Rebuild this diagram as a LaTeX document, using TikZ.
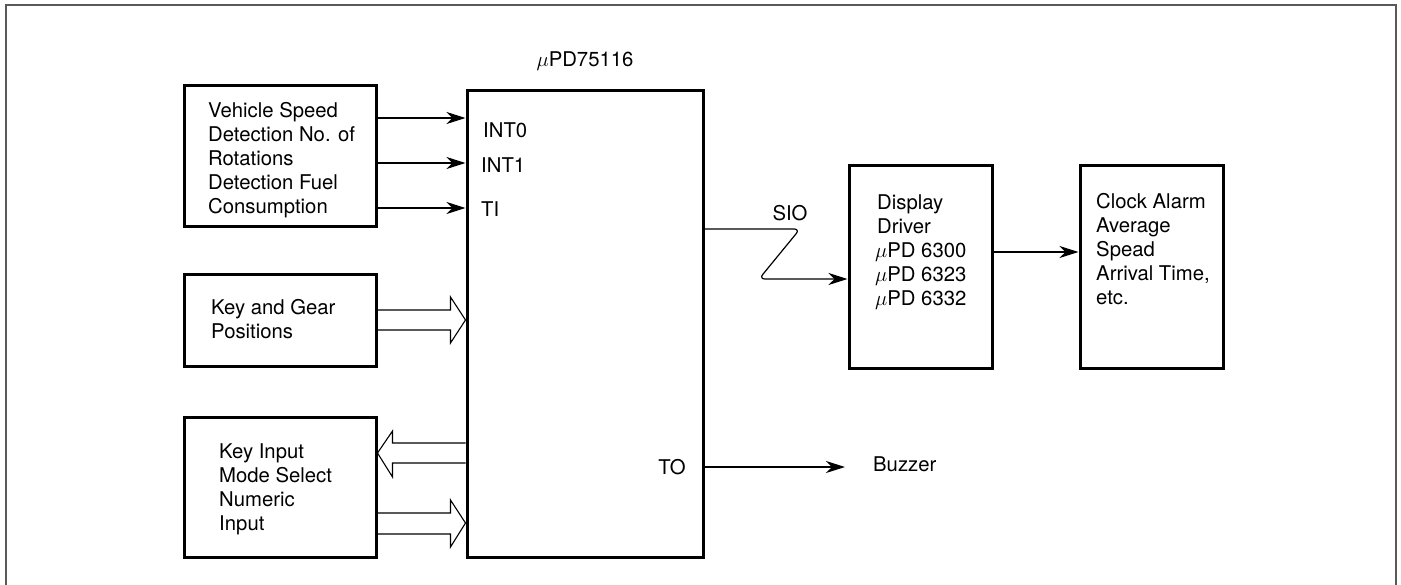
\documentclass[tikz,border=0pt]{standalone}
\usepackage{fontspec}
\setmainfont{TeX Gyre Heros}
\usetikzlibrary{arrows.meta,calc}
\newcommand\txtlines[1]{\vtop{\baselineskip=24pt\lineskiplimit=-30pt #1}}
\begin{document}
\begin{tikzpicture}[x=1pt,y=-1pt,
  blk/.style={draw=black,line width=3pt,inner sep=0pt},
  thinln/.style={line width=1.2pt},
  tip/.style={-{Stealth[length=19pt,width=12pt,inset=6pt]}},
  lbl/.style={inner sep=0pt,font=\fontsize{20.3}{24}\selectfont},
  hollow/.style={line width=1.1pt,line join=miter}]
\useasboundingbox (0,0) rectangle (1401,584);
% frame
\draw[black!65,line width=2pt] (6,640) -- (6,5) -- (1396,5) -- (1396,640);
% blocks
\node[blk,minimum width=192pt,minimum height=141pt] (b1) at (280,155.5) {};
\node[blk,minimum width=192pt,minimum height=92pt] (b2) at (280,320) {};
\node[blk,minimum width=192pt,minimum height=140pt] (b3) at (280,487) {};
\node[blk,minimum width=236pt,minimum height=467pt] (chip) at (585,323.5) {};
\node[blk,minimum width=143pt,minimum height=203pt] (disp) at (920.5,266.5) {};
\node[blk,minimum width=143pt,minimum height=203pt] (clk) at (1151.5,266.5) {};
% texts
\node[lbl,anchor=base west] (t1) at (208,117) {\txtlines{\hbox{Vehicle Speed}\hbox{Detection No. of}\hbox{Rotations}\hbox{Detection Fuel}\hbox{Consumption}}};
\node[lbl,anchor=base west] (t2) at (211,314) {\txtlines{\hbox{Key and Gear}\hbox{Positions}}};
\node[lbl,anchor=base west] (t3) at (219,458) {\txtlines{\hbox{Key Input}\hbox{Mode Select}\hbox{Numeric}\hbox{Input}}};
\node[lbl,anchor=base west] (t4) at (875,209) {\txtlines{\hbox{\kern2pt Display}\hbox{\kern2pt Driver}\hbox{$\mu$PD 6300}\hbox{$\mu$PD 6323}\hbox{$\mu$PD 6332}}};
\node[lbl,anchor=base west] (t5) at (1096,208) {\txtlines{\hbox{Clock Alarm}\hbox{Average}\hbox{Spead}\hbox{Arrival Time,}\hbox{etc.}}};
\node[lbl] (chipname) at (585,61) {$\mu$PD75116};
\node[lbl,anchor=base west] (int0) at (483,137) {INT0};
\node[lbl,anchor=base west] (int1) at (481,172) {INT1};
\node[lbl,anchor=base west] (ti) at (481,216) {TI};
\node[lbl] (sio) at (790,213) {SIO};
\node[lbl] (to) at (672,467) {TO};
\node[lbl,anchor=west] (buz) at (873,464) {Buzzer};
\coordinate (buzend) at (845,467);
% thin arrows
\draw[thinln,tip] (b1.east |- 0,118) -- (chip.west |- 0,118);
\draw[thinln,tip] (b1.east |- 0,163) -- (chip.west |- 0,163);
\draw[thinln,tip] (b1.east |- 0,208) -- (chip.west |- 0,208);
\draw[thinln,tip,rounded corners=6pt] (chip.east |- 0,229) -- (800,229) -- (759,279) -- (disp.west |- 0,279);
\draw[thinln,tip] (disp.east |- 0,252) -- (clk.west |- 0,252);
\draw[thinln,tip] (chip.east |- 0,467) -- (buzend);
% hollow arrows
\draw[hollow] (b2.east |- 0,310) -- ($(chip.west |- 0,310)+(-15,0)$) -- ($(chip.west |- 0,297)+(-15,0)$) -- (chip.west |- 0,320) -- ($(chip.west |- 0,343)+(-15,0)$) -- ($(chip.west |- 0,330)+(-15,0)$) -- (b2.east |- 0,330);
\draw[hollow] (chip.west |- 0,443) -- ($(b3.east |- 0,443)+(15,0)$) -- ($(b3.east |- 0,431)+(15,0)$) -- (b3.east |- 0,453) -- ($(b3.east |- 0,477)+(15,0)$) -- ($(b3.east |- 0,463)+(15,0)$) -- (chip.west |- 0,463);
\draw[hollow] (b3.east |- 0,513) -- ($(chip.west |- 0,513)+(-15,0)$) -- ($(chip.west |- 0,500)+(-15,0)$) -- (chip.west |- 0,523) -- ($(chip.west |- 0,547)+(-15,0)$) -- ($(chip.west |- 0,534)+(-15,0)$) -- (b3.east |- 0,534);
\end{tikzpicture}
\end{document}
